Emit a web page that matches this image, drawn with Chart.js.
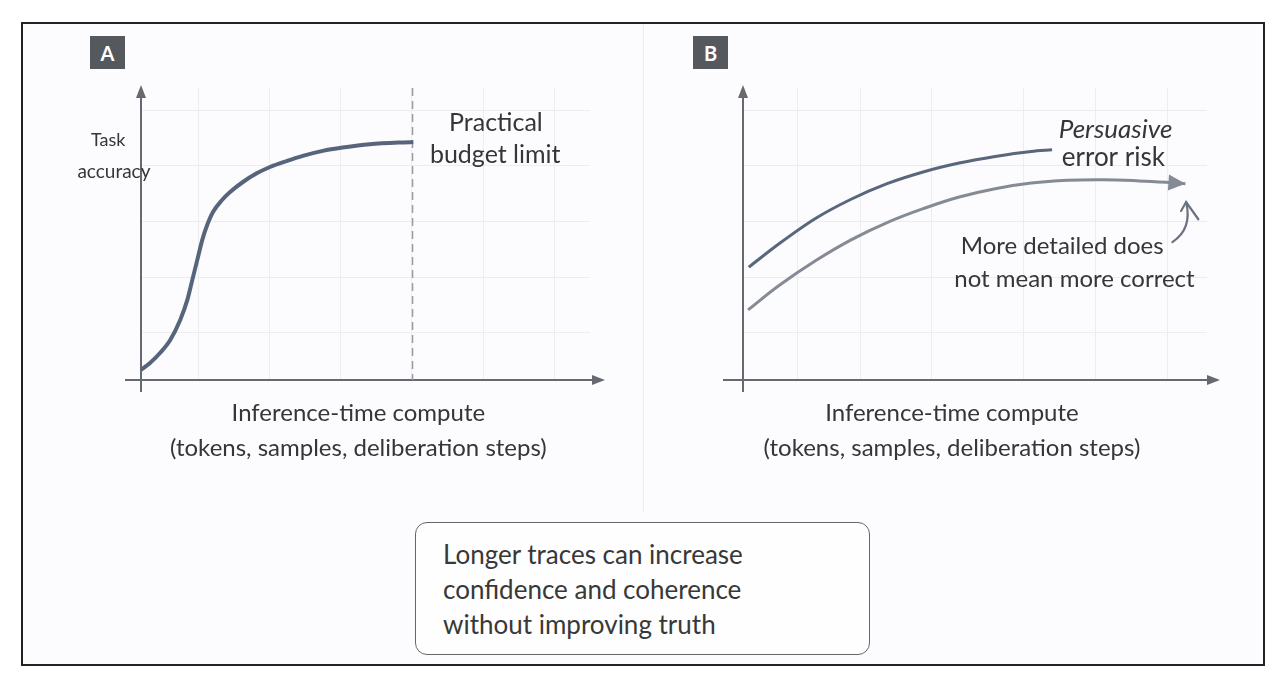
<!DOCTYPE html>
<html>
<head>
<meta charset="utf-8">
<script src="https://cdn.jsdelivr.net/npm/chart.js@4.4.1/dist/chart.umd.min.js"></script>
<style>
  html, body { margin: 0; padding: 0; background: #ffffff; }
  #page { position: relative; width: 1286px; height: 680px; overflow: hidden; font-family: Lato, "Open Sans", sans-serif; }
  #frame { position: absolute; left: 21px; top: 22px; width: 1240px; height: 640px; border: 2px solid #222; background: #fcfbfd; }
  #divider { position: absolute; left: 643px; top: 24px; width: 1px; height: 488px; background: #ebebef; }
  .tag { position: absolute; top: 36px; width: 35px; height: 33px; background: #55595e; color: #fff;
         font: bold 20px Lato, sans-serif; display: flex; align-items: center; justify-content: center; }
  .panel { position: absolute; top: 0; width: 643px; height: 680px; }
  #note { position: absolute; left: 415px; top: 522px; width: 455px; height: 133px; box-sizing: border-box;
          border: 1.5px solid #666; border-radius: 12px; background: #fefefe; padding: 14px 0 0 27px;
          font-size: 26px; line-height: 35px; color: #383838; }
</style>
</head>
<body>
<div id="page">
  <div id="frame"></div>
  <div id="divider"></div>
  <div class="panel" style="left:0"><canvas id="chartA" width="643" height="680"></canvas></div>
  <div class="panel" style="left:643px"><canvas id="chartB" width="643" height="680"></canvas></div>
  <div class="tag" style="left:90px">A</div>
  <div class="tag" style="left:693px">B</div>
  <div id="note">Longer traces can increase<br>confidence and coherence<br>without improving truth</div>
</div>
<script>
// panel A: accuracy vs inference-time compute (S-curve that flattens)
const computeA  = [0, 0.13, 0.27, 0.41, 0.55, 0.65, 0.72, 0.79, 0.86, 0.93, 1.01, 1.14, 1.25,
                   1.43, 1.63, 1.81, 2.05, 2.27, 2.55, 2.83, 3.21, 3.82];
const accuracyA = [0.18, 0.31, 0.49, 0.72, 1.08, 1.44, 1.80, 2.16, 2.52, 2.79, 3.02, 3.24, 3.38,
                   3.56, 3.72, 3.83, 3.94, 4.03, 4.12, 4.18, 4.24, 4.28];
const budgetLimit = 3.81;

// panel B: persuasiveness (upper) and correctness (lower)
const computeB1   = [0.08, 0.5, 1.0, 1.5, 2.0, 2.5, 3.0, 3.5, 4.0, 4.29];
const persuasiveB = [2.03, 2.45, 2.90, 3.25, 3.53, 3.74, 3.90, 4.02, 4.11, 4.14];
const computeB2   = [0.07, 0.5, 1.0, 1.5, 2.0, 2.5, 3.0, 3.5, 4.0, 4.5, 5.0, 5.5, 5.93, 6.14];
const correctB    = [1.26, 1.70, 2.14, 2.52, 2.83, 3.08, 3.29, 3.44, 3.54, 3.59, 3.60, 3.58, 3.55, 3.53];

// faint background grid
const gridXA = [0.8, 1.8, 2.8, 3.8, 4.8, 5.8];
const gridXB = [0.75, 1.63, 2.61, 3.89, 4.89, 5.89];
const gridY  = [0.85, 1.85, 2.85, 3.85, 4.85];

const xTitle = ['Inference-time compute', '(tokens, samples, deliberation steps)'];
const FONT = 'Lato, "Open Sans", sans-serif';
const AXIS = '#666a70';
const TEXT = '#363636';

function pts(xs, ys) { return xs.map((x, i) => ({ x: x, y: ys[i] })); }

function tri(ctx, x, y, dx, dy, len, half) {
  const nx = -dy, ny = dx;
  ctx.beginPath();
  ctx.moveTo(x, y);
  ctx.lineTo(x - dx * len + nx * half, y - dy * len + ny * half);
  ctx.lineTo(x - dx * len - nx * half, y - dy * len - ny * half);
  ctx.closePath();
  ctx.fill();
}

// axes with arrows, drawn under the curves
const arrowAxes = {
  id: 'arrowAxes',
  beforeDatasetsDraw(chart, args, opts) {
    const { ctx, chartArea: a, scales: { x, y } } = chart;
    const x0 = x.getPixelForValue(0), y0 = y.getPixelForValue(0);
    ctx.save();
    ctx.strokeStyle = AXIS; ctx.fillStyle = AXIS; ctx.lineWidth = 2;
    ctx.beginPath();
    ctx.moveTo(a.left - opts.xStart, y0); ctx.lineTo(a.right + opts.xEnd - 10, y0);
    ctx.moveTo(x0, a.bottom + 12); ctx.lineTo(x0, a.top + 8);
    ctx.stroke();
    tri(ctx, a.right + opts.xEnd, y0, 1, 0, 13, 5);
    tri(ctx, x0, a.top - 3, 0, -1, 13, 5);
    if (opts.dashAt != null) {
      const xd = x.getPixelForValue(opts.dashAt);
      ctx.strokeStyle = '#9a9ca1'; ctx.lineWidth = 1.5;
      ctx.setLineDash([8, 5]);
      ctx.beginPath(); ctx.moveTo(xd, a.top); ctx.lineTo(xd, y0); ctx.stroke();
    }
    ctx.restore();
  },
  afterDraw(chart, args, opts) {
    const { ctx, scales: { x, y } } = chart;
    ctx.save();
    ctx.fillStyle = TEXT; ctx.textAlign = 'center'; ctx.textBaseline = 'middle';
    // axis title under the x axis
    ctx.font = '24px ' + FONT;
    xTitle.forEach((t, i) => {
      ctx.fillText(t, x.getPixelForValue(opts.titleX), y.getPixelForValue(0) + 33 + i * 35);
    });
    (opts.labels || []).forEach(l => {
      ctx.font = (l.italic ? 'italic ' : '') + l.size + 'px ' + FONT;
      ctx.fillText(l.text, x.getPixelForValue(l.x), y.getPixelForValue(l.y));
    });
    // arrowhead at the end of a dataset
    (opts.heads || []).forEach(i => {
      const el = chart.getDatasetMeta(i).data;
      const p = el[el.length - 1], q = el[el.length - 2];
      const d = Math.hypot(p.x - q.x, p.y - q.y);
      ctx.fillStyle = chart.data.datasets[i].borderColor;
      tri(ctx, p.x, p.y, (p.x - q.x) / d, (p.y - q.y) / d, 17, 8);
    });
    if (opts.curl) {
      const c = opts.curl;
      const P = k => [x.getPixelForValue(c[k][0]), y.getPixelForValue(c[k][1])];
      const s = P('start'), m = P('ctrl'), e = P('end'), a1 = P('arm1'), a2 = P('arm2');
      ctx.strokeStyle = '#6a7282'; ctx.lineWidth = 2.2; ctx.lineCap = 'round';
      ctx.beginPath(); ctx.moveTo(s[0], s[1]); ctx.quadraticCurveTo(m[0], m[1], e[0], e[1]); ctx.stroke();
      ctx.beginPath(); ctx.moveTo(a2[0], a2[1]); ctx.lineTo(e[0], e[1]); ctx.lineTo(a1[0], a1[1]); ctx.stroke();
    }
    ctx.restore();
  }
};

function scalesFor(xMax, gx) {
  const grid = { color: '#ececf1', lineWidth: 1, drawTicks: false };
  return {
    x: {
      type: 'linear', min: 0, max: xMax, grid: grid, border: { display: false },
      ticks: { display: false },
      afterBuildTicks: s => { s.ticks = gx.map(v => ({ value: v })); }
    },
    y: {
      type: 'linear', min: 0, max: 5.25, grid: grid, border: { display: false },
      ticks: { display: false },
      afterBuildTicks: s => { s.ticks = gridY.map(v => ({ value: v })); }
    }
  };
}

const common = {
  responsive: false, animation: false, events: [],
  plugins: { legend: { display: false }, tooltip: { enabled: false } },
  elements: { point: { radius: 0 } }
};

new Chart(document.getElementById('chartA'), {
  type: 'line',
  data: {
    datasets: [{
      label: 'Task accuracy', data: pts(computeA, accuracyA),
      borderColor: '#56657b', borderWidth: 4, cubicInterpolationMode: 'monotone', fill: false
    }]
  },
  options: Object.assign({}, common, {
    layout: { padding: { left: 141, top: 88, right: 53, bottom: 300 } },
    scales: scalesFor(6.3, gridXA),
    plugins: Object.assign({}, common.plugins, {
      arrowAxes: {
        xStart: 16, xEnd: 15, dashAt: budgetLimit, titleX: 3.05,
        labels: [
          { text: 'Practical', x: 4.98, y: 4.62, size: 25 },
          { text: 'budget limit', x: 4.97, y: 4.05, size: 25 },
          { text: 'Task', x: -0.46, y: 4.32, size: 18 },
          { text: 'accuracy', x: -0.38, y: 3.74, size: 19 }
        ]
      }
    })
  }),
  plugins: [arrowAxes]
});

new Chart(document.getElementById('chartB'), {
  type: 'line',
  data: {
    datasets: [
      { label: 'Persuasiveness', data: pts(computeB1, persuasiveB),
        borderColor: '#59667c', borderWidth: 3, cubicInterpolationMode: 'monotone', fill: false },
      { label: 'Correctness', data: pts(computeB2, correctB),
        borderColor: '#858b95', borderWidth: 3, tension: 0.4, fill: false }
    ]
  },
  options: Object.assign({}, common, {
    layout: { padding: { left: 100, top: 88, right: 79, bottom: 300 } },
    scales: scalesFor(6.44, gridXB),
    plugins: Object.assign({}, common.plugins, {
      arrowAxes: {
        xStart: 20, xEnd: 13, heads: [1], titleX: 2.9,
        labels: [
          { text: 'Persuasive', x: 5.17, y: 4.51, size: 26, italic: true },
          { text: 'error risk', x: 5.14, y: 3.99, size: 26 },
          { text: 'More detailed does', x: 4.43, y: 2.41, size: 24 },
          { text: 'not mean more correct', x: 4.60, y: 1.82, size: 24 }
        ],
        curl: { start: [5.96, 2.48], ctrl: [6.24, 2.72], end: [6.15, 3.20], arm1: [6.32, 2.89], arm2: [6.08, 3.04] }
      }
    })
  }),
  plugins: [arrowAxes]
});
</script>
</body>
</html>
